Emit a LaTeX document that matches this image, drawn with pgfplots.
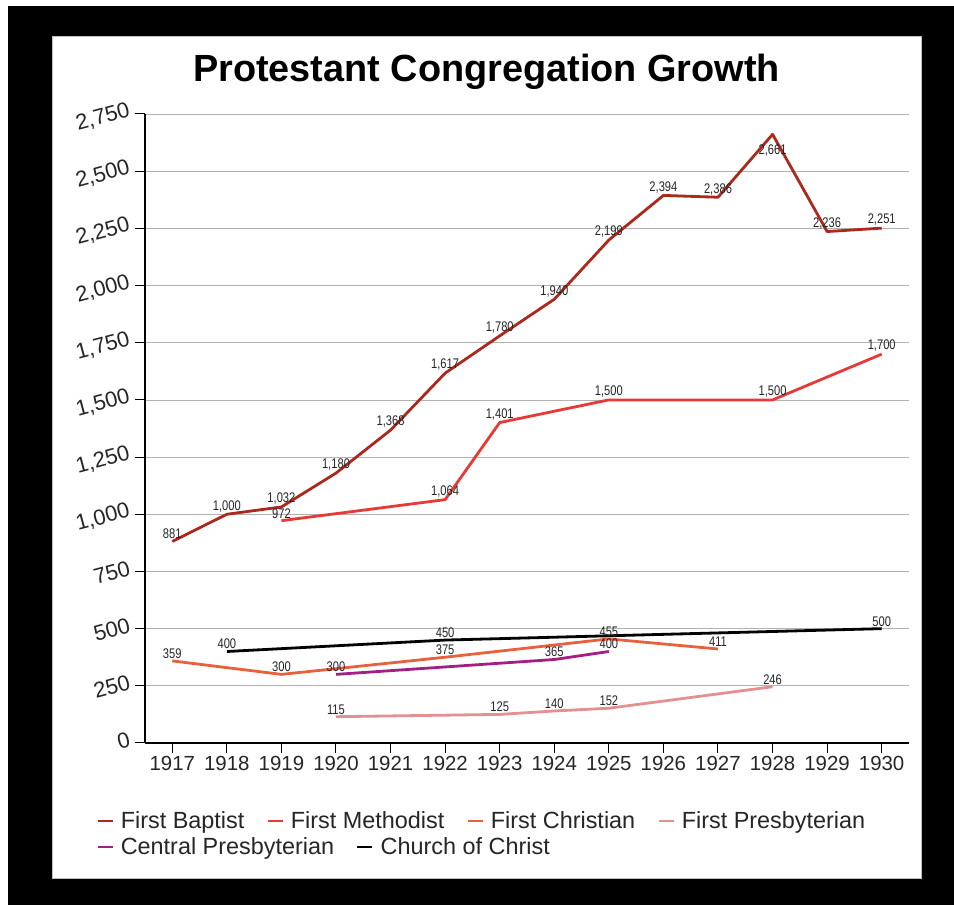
\documentclass[border=0pt]{standalone}
\usepackage{pgfplots}
\pgfplotsset{compat=1.18}
\usepackage{fontspec}
\setmainfont{Liberation Sans}
\newfontfamily\condfont[FakeStretch=0.8]{Liberation Sans}
\definecolor{cBap}{RGB}{170,40,28}
\definecolor{cMet}{RGB}{232,57,55}
\definecolor{cChr}{RGB}{232,97,60}
\definecolor{cPre}{RGB}{227,144,144}
\definecolor{cCen}{RGB}{165,30,130}
\definecolor{cCoc}{RGB}{0,0,0}
\pgfplotsset{/pgf/number format/assume math mode=true}
\begin{document}
\begin{tikzpicture}
\fill[white] (0bp,0bp) rectangle (954bp,905bp);
\fill[black] (8bp,0bp) rectangle (954bp,899bp);
\filldraw[fill=white, draw=gray!50, line width=0.8bp] (52bp,27bp) rectangle (921bp,869bp);
\node[font=\bfseries\fontsize{38}{44}\selectfont] at (486.5bp,833bp) {Protestant Congregation Growth};
\begin{axis}[
  at={(145bp,162bp)}, anchor=south west,
  scale only axis, width=764bp, height=629bp,
  xmin=1916.5, xmax=1930.5, ymin=0, ymax=2750,
  xtick={1917,...,1930}, ytick={0,250,...,2750},
  axis x line*=bottom, axis y line*=left,
  axis line style={line width=2.5bp, black},
  tick align=outside, major tick length=10bp,
  tick style={black, line width=1bp},
  ymajorgrids, grid style={black!30, line width=0.8bp},
  scaled y ticks=false,
  tick label style={font=\fontsize{20.5}{24}\selectfont, text=black!85},
  xticklabel style={/pgf/number format/1000 sep={}},
  yticklabel style={font=\fontsize{22}{24}\selectfont, rotate=15, anchor=east, yshift=5bp, xshift=-1bp, /pgf/number format/1000 sep={,}},
  clip=false,
  legend columns=4,
  legend cell align=left,
  legend image code/.code={\draw[#1, line width=2.5bp] (0bp,0bp) -- (15bp,0bp);},
  legend style={at={(axis description cs:-0.064,-0.124)}, anchor=west, draw=none, fill=none,
    inner sep=0pt, font=\fontsize{23.5}{26}\selectfont, text=black!85,
    /tikz/every odd column/.append style={column sep=5bp},
    /tikz/every even column/.append style={column sep=20bp}},
  every axis plot/.append style={line width=2.8bp, line join=round},
  nodes near coords={\pgfmathprintnumber[1000 sep={,}]{\pgfplotspointmeta}},
  every node near coord/.append style={font=\condfont\fontsize{14}{15}\selectfont, text=black!85, inner sep=1bp, anchor=south},
]
\addplot[cBap, mark=none, visualization depends on={\thisrow{dy}\as\dy},
  every node near coord/.append style={yshift=\dy pt}] table[x=x,y=y] {
x y dy
1917 881 0
1918 1000 0
1919 1032 0
1920 1180 0
1921 1368 0
1922 1617 0
1923 1780 0
1924 1940 0
1925 2199 0
1926 2394 0
1927 2386 0
1928 2661 -24
1929 2236 0
1930 2251 0
};
\addlegendentry{First Baptist}
\addplot[cMet, mark=none] coordinates {
(1919,972) (1922,1064) (1923,1401) (1925,1500) (1928,1500) (1930,1700)};
\addlegendentry{First Methodist}
\addplot[cChr, mark=none] coordinates {
(1917,359) (1919,300) (1922,375) (1925,455) (1927,411)};
\addlegendentry{First Christian}
\addplot[cPre, mark=none] coordinates {
(1920,115) (1923,125) (1924,140) (1925,152) (1928,246)};
\addlegendentry{First Presbyterian}
\addplot[cCen, mark=none, forget plot] coordinates {
(1920,300) (1924,365) (1925,400)};
\addplot[cCoc, mark=none, forget plot] coordinates {
(1918,400) (1922,450) (1930,500)};
\end{axis}
\begin{axis}[
  at={(145bp,162bp)}, anchor=south west,
  scale only axis, width=764bp, height=629bp,
  xmin=1916.5, xmax=1930.5, ymin=0, ymax=2750,
  hide axis,
  legend columns=2,
  legend cell align=left,
  legend image code/.code={\draw[#1, line width=2.5bp] (0bp,0bp) -- (15bp,0bp);},
  legend style={at={(axis description cs:-0.064,-0.165)}, anchor=west, draw=none, fill=none,
    inner sep=0pt, font=\fontsize{23.5}{26}\selectfont, text=black!85,
    /tikz/every odd column/.append style={column sep=5bp},
    /tikz/every even column/.append style={column sep=20bp}},
]
\addlegendimage{cCen}
\addlegendentry{Central Presbyterian}
\addlegendimage{cCoc}
\addlegendentry{Church of Christ}
\end{axis}
\end{tikzpicture}
\end{document}
